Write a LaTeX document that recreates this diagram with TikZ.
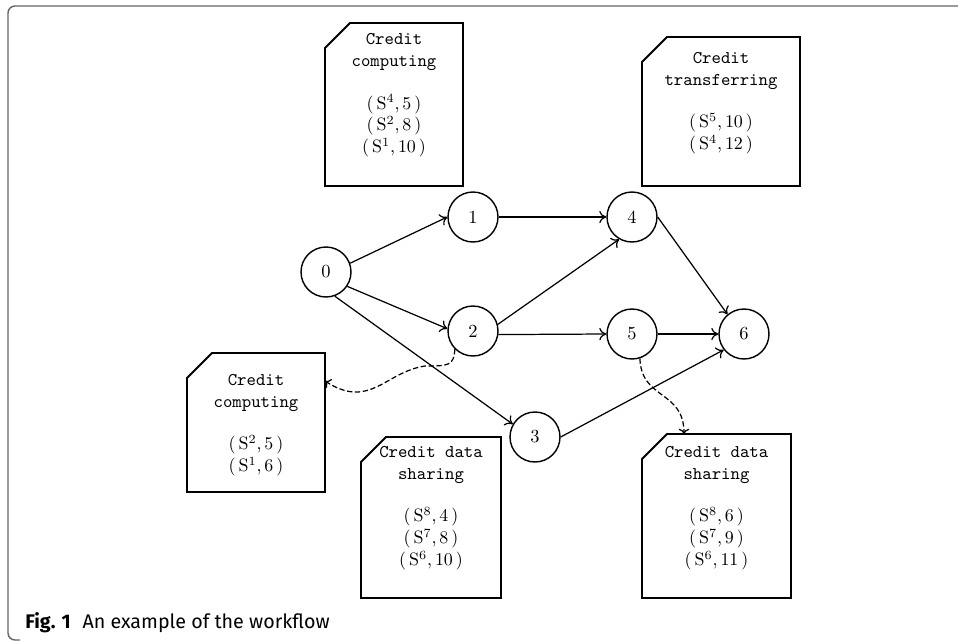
\documentclass[tikz,border=0pt]{standalone}
\usepackage{fontspec}
\newfontfamily\capfont{Fira Sans}
\usetikzlibrary{arrows.meta}
\tikzset{
    % Node styles
    task node/.style={
        circle,
        draw,
        line width=0.8pt,
        minimum size=1cm,
        inner sep=0pt,
        font=\fontsize{10.5}{12}\selectfont
    },
    doc box/.style={
        rectangle,
        inner sep=0pt,
        outer sep=0pt,
        align=center
    },
    box line/.style={
        line width=1.1pt,
        line join=miter
    },
    % Arrow styles
    flow arrow/.style={
        -{To[length=4pt,width=7pt]},
        line width=0.7pt
    },
    data flow/.style={
        -{To[length=3pt,width=6pt]},
        line width=0.7pt,
        dash pattern=on 3pt off 1.5pt
    },
    frame line/.style={
        black!60,
        line width=0.8pt,
        rounded corners=4pt
    }
}
% text block of a document box: width, height, top padding, lines
\newcommand{\boxtext}[4]{%
    \parbox[c][#2][t]{#1}{\centering\fontsize{10.2}{12.4}\selectfont\vspace*{#3}#4}}
\newcommand{\cre}[2]{\rmfamily(\,S\textsuperscript{#1},\,#2\,)}

\begin{document}
\begin{tikzpicture}[x=0.02cm, y=-0.02cm]
    \useasboundingbox (0,0) rectangle (958,640);

    % Frame
    \draw[frame line] (958,6) -- (8,6) -- (8,640) -- (20,640);

    % Tasks
    \foreach \i/\x/\y in {0/326/272,1/473/217,2/473/331,3/535/437,4/632/217,5/632/334,6/744/334} {
        \node[task node] (t\i) at (\x,\y) {\i};
    }

    % Precedence edges
    \foreach \a/\b in {t0.20/t1.west,t0.-34/t2.175,t0.290/t3.150,t1.east/t4.west,
                       t2.15/t4.240,t2.-8/t5.west,t4.east/t6.130,t5.east/t6.west,t3.east/t6.218} {
        \draw[flow arrow] (\a) -- (\b);
    }

    % Service boxes
    \node[doc box] (cc1) at (394,104.5) {\boxtext{2.76cm}{3.26cm}{5.8pt}{%
        \ttfamily Credit\\computing\\[12pt]\cre{4}{5}\\\cre{2}{8}\\\cre{1}{10}}};
    \node[doc box] (ct) at (721,111.5) {\boxtext{3.16cm}{2.98cm}{8.6pt}{%
        \ttfamily Credit\\transferring\\[12pt]\cre{5}{10}\\\cre{4}{12}}};
    \node[doc box] (cc2) at (256,422.5) {\boxtext{2.76cm}{2.78cm}{12pt}{%
        \ttfamily Credit\\computing\\[12pt]\cre{2}{5}\\\cre{1}{6}}};
    \node[doc box] (cd1) at (431,517.5) {\boxtext{2.80cm}{3.22cm}{5.2pt}{%
        \ttfamily Credit data\\sharing\\[12pt]\cre{8}{4}\\\cre{7}{8}\\\cre{6}{10}}};
    \node[doc box] (cd2) at (716.5,516) {\boxtext{2.98cm}{3.28cm}{6.9pt}{%
        \ttfamily Credit data\\sharing\\[12pt]\cre{8}{6}\\\cre{7}{9}\\\cre{6}{11}}};

    % Box outlines with cut corner
    \foreach \b in {cc1,ct,cc2,cd1,cd2} {
        \draw[box line] (\b.north west) ++(0,25) -- ++(25,-25) -- (\b.north east)
            -- (\b.south east) -- (\b.south west) -- cycle;
    }

    % Assignment links
    \draw[data flow] (t2.225) .. controls (454,366) and (448,366) .. (425,366)
        .. controls (385,372) and (370,410) .. ([yshift=-0.56cm]cc2.north east);
    \draw[data flow] (t5.288) .. controls (641,400) and (684,390) .. ([xshift=-0.65cm]cd2.north);

    % Caption
    \node[anchor=base west, inner sep=0pt, font=\capfont\fontsize{11.2}{13}\selectfont]
        (cap) at (25,628) {\textbf{Fig. 1}\hspace{0.6em}An example of the workflow};
\end{tikzpicture}
\end{document}
